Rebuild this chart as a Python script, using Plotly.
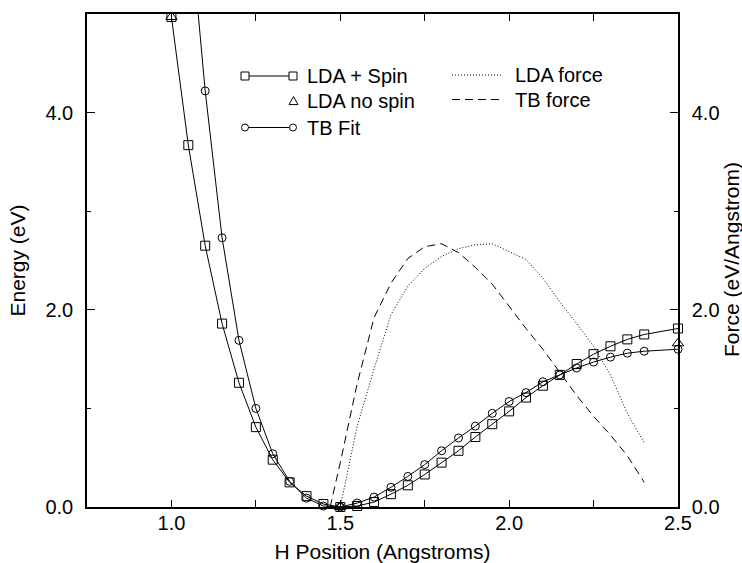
import plotly.graph_objects as go

# ---------------- data ----------------
x_spin = [1.00, 1.05, 1.10, 1.15, 1.20, 1.25, 1.30, 1.35, 1.40, 1.45, 1.50, 1.55,
          1.60, 1.65, 1.70, 1.75, 1.80, 1.85, 1.90, 1.95, 2.00, 2.05, 2.10, 2.15,
          2.20, 2.25, 2.30, 2.35, 2.40, 2.50]
e_spin = [4.97, 3.67, 2.65, 1.86, 1.26, 0.81, 0.48, 0.25, 0.11, 0.03, 0.00, 0.01,
          0.05, 0.13, 0.22, 0.33, 0.45, 0.57, 0.71, 0.84, 0.97, 1.11, 1.23, 1.34,
          1.45, 1.55, 1.63, 1.70, 1.75, 1.81]

x_nospin = [1.00, 1.50, 2.50]
e_nospin = [4.97, 0.00, 1.66]

x_tb = [1.05, 1.10, 1.15, 1.20, 1.25, 1.30, 1.35, 1.40, 1.45, 1.50, 1.55, 1.60,
        1.65, 1.70, 1.75, 1.80, 1.85, 1.90, 1.95, 2.00, 2.05, 2.10, 2.15, 2.20,
        2.25, 2.30, 2.35, 2.40, 2.50]
e_tb = [6.10, 4.22, 2.73, 1.69, 1.00, 0.54, 0.26, 0.09, 0.01, 0.00, 0.04, 0.10,
        0.20, 0.31, 0.43, 0.57, 0.70, 0.82, 0.95, 1.07, 1.16, 1.27, 1.34, 1.41,
        1.47, 1.52, 1.56, 1.58, 1.60]

x_ldaf = [1.50, 1.55, 1.60, 1.65, 1.70, 1.75, 1.80, 1.85, 1.90, 1.95, 2.00, 2.05,
          2.10, 2.15, 2.20, 2.25, 2.30, 2.35, 2.40]
f_lda = [0.00, 0.82, 1.40, 1.95, 2.24, 2.42, 2.54, 2.62, 2.66, 2.67, 2.59, 2.51,
         2.32, 2.08, 1.86, 1.63, 1.34, 0.95, 0.65]

x_tbf = [1.47, 1.50, 1.55, 1.60, 1.65, 1.70, 1.75, 1.80, 1.85, 1.90, 1.95, 2.00,
         2.05, 2.10, 2.15, 2.20, 2.25, 2.30, 2.35, 2.40]
f_tb = [0.00, 0.45, 1.25, 1.92, 2.27, 2.52, 2.64, 2.67, 2.58, 2.43, 2.26, 2.03,
        1.81, 1.60, 1.37, 1.13, 0.92, 0.73, 0.52, 0.25]

x_tickvals = [1.0, 1.25, 1.5, 1.75, 2.0, 2.25, 2.5]
x_ticktext = ["1.0", "", "1.5", "", "2.0", "", "2.5"]
y_range = [0, 5]
x_range = [0.75, 2.5]

FONT = "Liberation Sans, Arial, Helvetica, sans-serif"
BLACK = "black"

fig = go.Figure()

# energy curves
fig.add_trace(go.Scatter(x=x_spin, y=e_spin, mode="lines+markers", cliponaxis=False,
                         line=dict(color=BLACK, width=1),
                         marker=dict(symbol="square-open", size=9, color=BLACK,
                                     line=dict(width=1, color=BLACK)),
                         showlegend=False))
fig.add_trace(go.Scatter(x=x_tb, y=e_tb, mode="lines",
                         line=dict(color=BLACK, width=1), showlegend=False))
tb_mx = [x for x, y in zip(x_tb, e_tb) if y <= y_range[1]]
tb_my = [y for y in e_tb if y <= y_range[1]]
fig.add_trace(go.Scatter(x=tb_mx, y=tb_my, mode="markers", cliponaxis=False,
                         marker=dict(symbol="circle-open", size=8, color=BLACK,
                                     line=dict(width=1, color=BLACK)),
                         showlegend=False))
fig.add_trace(go.Scatter(x=x_nospin, y=e_nospin, mode="markers", cliponaxis=False,
                         marker=dict(symbol="triangle-up-open", size=10, color=BLACK,
                                     line=dict(width=1, color=BLACK)),
                         showlegend=False))

# force curves (right axis)
fig.add_trace(go.Scatter(x=x_ldaf, y=f_lda, mode="lines", yaxis="y2",
                         line=dict(color=BLACK, width=1, dash="1px,2px"),
                         showlegend=False))
fig.add_trace(go.Scatter(x=x_tbf, y=f_tb, mode="lines", yaxis="y2",
                         line=dict(color=BLACK, width=1, dash="8px,5px"),
                         showlegend=False))

# ---------------- custom legend ----------------
shapes = []
ann = []
def px_x(px):
    return (px - 87) / 591.0
def px_y(py):
    return (507 - py) / 493.0

def marker_shape(kind, px, py, s):
    if kind == "square":
        return dict(type="rect", xref="paper", yref="paper", xsizemode="pixel",
                    ysizemode="pixel", xanchor=px_x(px), yanchor=px_y(py),
                    x0=-s / 2, x1=s / 2, y0=-s / 2, y1=s / 2,
                    line=dict(color=BLACK, width=1), fillcolor="white")
    if kind == "circle":
        return dict(type="circle", xref="paper", yref="paper", xsizemode="pixel",
                    ysizemode="pixel", xanchor=px_x(px), yanchor=px_y(py),
                    x0=-s / 2, x1=s / 2, y0=-s / 2, y1=s / 2,
                    line=dict(color=BLACK, width=1), fillcolor="white")
    h = s / 2
    return dict(type="path", xref="paper", yref="paper", xsizemode="pixel",
                ysizemode="pixel", xanchor=px_x(px), yanchor=px_y(py),
                path=f"M {-h} {-h*0.8} L {h} {-h*0.8} L 0 {h} Z",
                line=dict(color=BLACK, width=1), fillcolor="white")

def line_shape(x0, x1, py, dash="solid"):
    return dict(type="line", xref="paper", yref="paper",
                x0=px_x(x0), x1=px_x(x1), y0=px_y(py), y1=px_y(py),
                line=dict(color=BLACK, width=1, dash=dash))

# column 1
shapes.append(line_shape(245, 293, 76))
shapes.append(marker_shape("square", 245, 76, 8))
shapes.append(marker_shape("square", 293, 76, 8))
shapes.append(marker_shape("triangle", 293.5, 101, 9))
shapes.append(line_shape(245, 293, 127.5))
shapes.append(marker_shape("circle", 245, 127.5, 7))
shapes.append(marker_shape("circle", 293, 127.5, 7))
# column 2
shapes.append(line_shape(452, 501, 75, "1px,2px"))
shapes.append(line_shape(452, 501, 99.5, "8px,5px"))

for txt, px, py in [("LDA + Spin", 305, 76), ("LDA no spin", 305, 101),
                    ("TB Fit", 305, 128), ("LDA force", 513, 75),
                    ("TB force", 513, 99.5)]:
    ann.append(dict(text=txt, x=px_x(px), y=px_y(py), xref="paper", yref="paper",
                    xanchor="left", yanchor="middle", showarrow=False,
                    font=dict(family=FONT, size=20, color=BLACK)))

# right axis title placed as rotated text
ann.append(dict(text="Force (eV/Angstrom)", x=px_x(731), y=px_y(260),
                xref="paper", yref="paper", xanchor="center", yanchor="middle",
                textangle=-90, showarrow=False,
                font=dict(family=FONT, size=21, color=BLACK)))

axis_common = dict(showline=True, linecolor=BLACK, linewidth=1.5, showgrid=False,
                   zeroline=False, ticks="inside", tickcolor=BLACK, tickwidth=1,
                   tickfont=dict(family=FONT, size=20, color=BLACK))

fig.update_layout(
    width=742, height=563,
    margin=dict(l=87, r=64, t=14, b=56, autoexpand=False),
    paper_bgcolor="white", plot_bgcolor="white",
    font=dict(family=FONT, size=20, color=BLACK),
    shapes=shapes, annotations=ann, showlegend=False,
    xaxis=dict(range=x_range, tickvals=x_tickvals, ticktext=x_ticktext,
               ticklen=7, mirror="ticks", ticklabelstandoff=-3,
               title=dict(text="H Position (Angstroms)", standoff=12,
                          font=dict(family=FONT, size=21, color=BLACK)),
               automargin=False, **axis_common),
    yaxis=dict(range=y_range, dtick=2, tickformat=".1f", ticklen=8, mirror=True,
               ticklabelstandoff=8,
               minor=dict(dtick=1, ticklen=4, ticks="inside", tickcolor=BLACK),
               title=dict(text="Energy (eV)", standoff=14,
                          font=dict(family=FONT, size=21, color=BLACK)),
               automargin=False, **axis_common),
    yaxis2=dict(range=y_range, dtick=2, tickformat=".1f", ticklen=8,
                overlaying="y", side="right", ticklabelstandoff=8,
                minor=dict(dtick=1, ticklen=4, ticks="inside", tickcolor=BLACK),
                automargin=False, **axis_common),
)

fig.write_html("out.html")
